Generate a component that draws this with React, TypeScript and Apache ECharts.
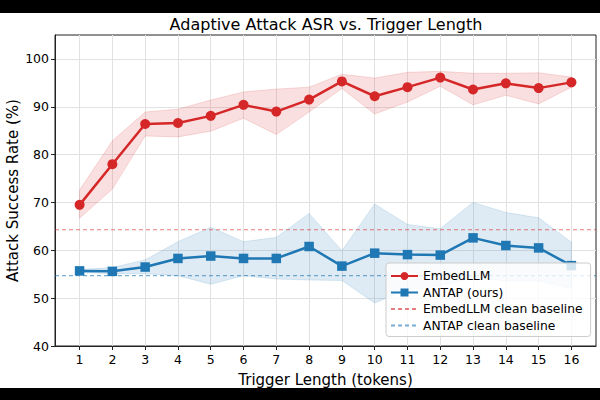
import React, { useEffect, useRef } from "react";
import * as echarts from "echarts";

// Trigger lengths (tokens)
const lengths = [1, 2, 3, 4, 5, 6, 7, 8, 9, 10, 11, 12, 13, 14, 15, 16];

// EmbedLLM attack success rate (%) with spread band
const embedMean = [69.5, 78.0, 86.4, 86.6, 88.1, 90.4, 89.0, 91.5, 95.3, 92.2, 94.1, 96.1, 93.6, 94.9, 93.9, 95.1];
const embedUpper = [72.6, 82.9, 88.9, 89.5, 91.4, 93.1, 93.7, 94.1, 96.8, 96.0, 97.2, 97.4, 97.0, 97.0, 97.1, 96.2];
const embedLower = [66.7, 72.8, 83.9, 83.7, 84.9, 87.6, 84.2, 88.9, 93.8, 88.5, 91.0, 94.3, 90.4, 92.4, 90.6, 94.1];

// ANTAP (ours) attack success rate (%) with spread band
const antapMean = [55.7, 55.6, 56.5, 58.3, 58.8, 58.3, 58.3, 60.8, 56.7, 59.4, 59.1, 59.0, 62.6, 61.0, 60.5, 56.8];
const antapUpper = [56.0, 56.4, 58.0, 61.8, 64.8, 61.8, 62.7, 67.7, 59.9, 69.7, 65.4, 64.5, 70.0, 67.9, 66.8, 61.7];
const antapLower = [55.4, 55.1, 55.1, 54.7, 52.9, 54.7, 54.0, 53.8, 53.7, 49.0, 51.8, 52.6, 54.3, 53.6, 53.6, 52.0];

// Clean baselines (%)
const embedBaseline = 64.3;
const antapBaseline = 54.7;

const yTicks = [40, 50, 60, 70, 80, 90, 100];

const RED = "#d62728";
const BLUE = "#1f77b4";
const FONT = "DejaVu Sans";

const xMin = 0.25;
const xMax = 16.75;

// Shaded band between lower and upper bounds, drawn as one polygon
function bandSeries(name: string, hi: number[], lo: number[], fill: string, stroke: string) {
  return {
    name,
    type: "custom",
    silent: true,
    z: 1,
    data: [0],
    renderItem: (_params: any, api: any) => {
      const top = lengths.map((x, i) => api.coord([x, hi[i]]));
      const bottom = lengths.map((x, i) => api.coord([x, lo[i]])).reverse();
      return {
        type: "polygon",
        shape: { points: top.concat(bottom) },
        style: { fill, stroke, lineWidth: 1 },
      };
    },
  };
}

export default function App() {
  const ref = useRef<HTMLDivElement>(null);

  useEffect(() => {
    if (!ref.current) return;
    const chart = echarts.init(ref.current, undefined, { renderer: "svg" });

    const pairs = (ys: number[]) => lengths.map((x, i) => [x, ys[i]]);

    chart.setOption({
      animation: false,
      backgroundColor: "#ffffff",
      textStyle: { fontFamily: FONT },
      title: {
        text: "Adaptive Attack ASR vs. Trigger Length",
        left: 321,
        top: 11,
        textAlign: "center",
        textStyle: { fontFamily: FONT, fontSize: 16, fontWeight: "normal", color: "#000" },
      },
      graphic: [
        { type: "rect", shape: { x: 0, y: 0, width: 600, height: 13 }, style: { fill: "#000" }, z: 100 },
        { type: "rect", shape: { x: 0, y: 388, width: 600, height: 12 }, style: { fill: "#000" }, z: 100 },
      ],
      grid: {
        left: 55,
        right: 4,
        top: 35,
        bottom: 54,
        containLabel: false,
        outerBoundsMode: "none",
        show: true,
        borderColor: "#222",
        borderWidth: 1,
        backgroundColor: "transparent",
      },
      legend: {
        data: [
          "EmbedLLM",
          "ANTAP (ours)",
          { name: "EmbedLLM clean baseline", itemStyle: { opacity: 0 } },
          { name: "ANTAP clean baseline", itemStyle: { opacity: 0 } },
        ],
        orient: "vertical",
        left: 386,
        top: 263,
        itemWidth: 27,
        itemHeight: 10,
        itemGap: 4.5,
        padding: [7, 8, 5, 4],
        backgroundColor: "rgba(255,255,255,0.8)",
        borderColor: "#cccccc",
        borderWidth: 1,
        borderRadius: 3,
        textStyle: { fontFamily: FONT, fontSize: 12.3, color: "#000" },
      },
      xAxis: {
        type: "value",
        min: xMin,
        max: xMax,
        name: "Trigger Length (tokens)",
        nameLocation: "middle",
        nameGap: 26,
        nameMoveOverlap: false,
        nameTextStyle: { fontFamily: FONT, fontSize: 15, color: "#000" },
        axisLine: { show: true, lineStyle: { color: "#222", width: 1 } },
        axisTick: { show: true, length: 4, lineStyle: { color: "#222" }, customValues: lengths },
        axisLabel: { customValues: lengths, fontFamily: FONT, fontSize: 12.5, color: "#000", margin: 7 },
        splitLine: { show: true, lineStyle: { color: "#e2e2e2", width: 1 } },
      },
      yAxis: {
        type: "value",
        min: 40,
        max: 105,
        interval: 10,
        name: "Attack Success Rate (%)",
        nameLocation: "middle",
        nameGap: 35,
        nameMoveOverlap: false,
        nameTextStyle: { fontFamily: FONT, fontSize: 15, color: "#000" },
        axisLine: { show: true, lineStyle: { color: "#222", width: 1 } },
        axisTick: { show: true, length: 4, lineStyle: { color: "#222" }, customValues: yTicks },
        axisLabel: { customValues: yTicks, fontFamily: FONT, fontSize: 12.5, color: "#000", margin: 6 },
        splitLine: { show: true, lineStyle: { color: "#e2e2e2", width: 1 } },
      },
      series: [
        bandSeries("embedBand", embedUpper, embedLower, "rgba(214,39,40,0.15)", "rgba(214,39,40,0.15)"),
        bandSeries("antapBand", antapUpper, antapLower, "rgba(31,119,180,0.15)", "rgba(31,119,180,0.15)"),
        {
          name: "EmbedLLM clean baseline",
          type: "line",
          data: [[xMin, embedBaseline], [xMax, embedBaseline]],
          symbol: "none",
          lineStyle: { color: RED, width: 1.2, type: [4, 3], opacity: 0.6 },
          itemStyle: { color: RED },
          z: 2,
        },
        {
          name: "ANTAP clean baseline",
          type: "line",
          data: [[xMin, antapBaseline], [xMax, antapBaseline]],
          symbol: "none",
          lineStyle: { color: BLUE, width: 1.2, type: [4, 3], opacity: 0.6 },
          itemStyle: { color: BLUE },
          z: 2,
        },
        {
          name: "EmbedLLM",
          type: "line",
          data: pairs(embedMean),
          symbol: "circle",
          symbolSize: 10,
          lineStyle: { color: RED, width: 2.5 },
          itemStyle: { color: RED },
          z: 3,
        },
        {
          name: "ANTAP (ours)",
          type: "line",
          data: pairs(antapMean),
          symbol: "rect",
          symbolSize: 9.5,
          lineStyle: { color: BLUE, width: 2.5 },
          itemStyle: { color: BLUE },
          z: 3,
        },
      ],
    });

    return () => chart.dispose();
  }, []);

  return <div ref={ref} style={{ width: 600, height: 400, position: "absolute", left: 0, top: 0 }} />;
}
